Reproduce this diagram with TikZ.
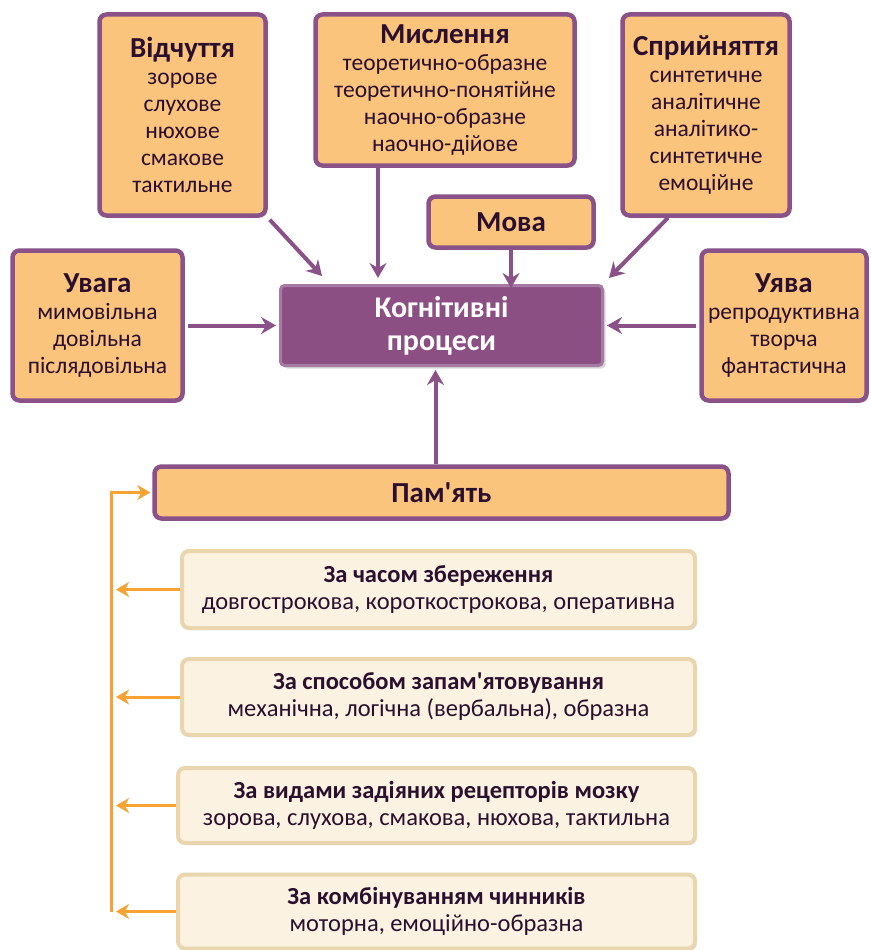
\documentclass[tikz,border=0pt]{standalone}
\usepackage{fontspec}
\setmainfont{Carlito}[Ligatures=TeXOff]
\usetikzlibrary{arrows.meta}
\usetikzlibrary{shadows}
\definecolor{boxfill}{HTML}{FAC47D}
\definecolor{plum}{HTML}{8A5289}
\definecolor{plumfill}{HTML}{8B4F84}
\definecolor{plumedge}{HTML}{A57AA3}
\definecolor{ink}{HTML}{2B0F2E}
\definecolor{cream}{HTML}{FBF2E2}
\definecolor{creamedge}{HTML}{E9D5AE}
\definecolor{amber}{HTML}{F7A233}
\tikzstyle{proc} = [draw=plum, fill=boxfill, line width=4.5pt, rounded corners=7pt, text=ink, align=center, inner sep=0pt, drop shadow={opacity=0.25, shadow xshift=2pt, shadow yshift=-2pt}, font=\fontsize{23.5}{27}\selectfont]
\tikzstyle{core} = [draw=plumedge, fill=plumfill, line width=3pt, rounded corners=4pt, text=white, align=center, inner sep=0pt, drop shadow={opacity=0.3, shadow xshift=3pt, shadow yshift=-3pt}, font=\bfseries\fontsize{30}{33}\selectfont]
\tikzstyle{kind} = [draw=creamedge, fill=cream, line width=4pt, rounded corners=7pt, text=ink, align=center, inner sep=0pt, drop shadow={opacity=0.2, shadow xshift=2pt, shadow yshift=-2pt}, font=\fontsize{24.5}{27}\selectfont]
\tikzstyle{parrow} = [draw=plum, line width=4pt, -{Stealth[length=15pt, width=17pt, inset=5pt]}]
\tikzstyle{oarrow} = [draw=amber, line width=3pt, -{Stealth[length=13pt, width=15pt, inset=4pt]}]
\newcommand{\ttl}[1]{{\bfseries\fontsize{29}{31}\selectfont #1}}
\newcommand{\ktl}[1]{{\bfseries\fontsize{24.5}{27}\selectfont #1}}

\begin{document}
\begin{tikzpicture}[x=1pt,y=-1pt]
\useasboundingbox[fill=white] (0,0) rectangle (870,950);
% top row
\node[proc, minimum width=166pt, minimum height=201pt] (vid) at (182.5,115) {\ttl{Відчуття}\\зорове\\слухове\\нюхове\\смакове\\тактильне};
\node[proc, minimum width=259pt, minimum height=151pt] (mys) at (445,90) {\ttl{Мислення}\\теоретично-образне\\теоретично-понятійне\\наочно-образне\\наочно-дійове};
\node[proc, minimum width=167pt, minimum height=201pt] (spr) at (706,115) {\ttl{Сприйняття}\\синтетичне\\аналітичне\\аналітико-\\синтетичне\\емоційне};
\node[proc, minimum width=165pt, minimum height=51pt] (mova) at (511,222) {\ttl{Мова}};
% middle row
\node[proc, minimum width=170pt, minimum height=150pt] (uvaga) at (97.5,325.5) {\ttl{Увага}\\мимовільна\\довільна\\післядовільна};
\node[proc, minimum width=165pt, minimum height=150pt] (uyava) at (784,325.5) {\ttl{Уява}\\репродуктивна\\творча\\фантастична};
\node[core, minimum width=322pt, minimum height=80pt] (cog) at (441.5,325.5) {Когнітивні\\процеси};
% memory
\node[proc, minimum width=574pt, minimum height=52pt] (pam) at (441.5,492.5) {\ttl{Пам'ять}};
\node[kind, minimum width=513pt, minimum height=77pt] (z1) at (438.5,589.5) {\ktl{За часом збереження}\\довгострокова, короткострокова, оперативна};
\node[kind, minimum width=513pt, minimum height=76pt] (z2) at (438.5,697) {\ktl{За способом запам'ятовування}\\механічна, логічна (вербальна), образна};
\node[kind, minimum width=517pt, minimum height=75pt] (z3) at (436.5,805.5) {\ktl{За видами задіяних рецепторів мозку}\\зорова, слухова, смакова, нюхова, тактильна};
\node[kind, minimum width=517pt, minimum height=74pt] (z4) at (436.5,911.5) {\ktl{За комбінуванням чинників}\\моторна, емоційно-образна};
\coordinate (spine) at (111,912);

% arrows into the core
\draw[parrow] ([shift={(2,2)}]vid.south east) -- ([shift={(43,-8)}]cog.north west);
\draw[parrow] ([xshift=-67]mys.south) -- ([shift={(-67,-6)}]mys.south |- cog.north);
\draw[parrow] (mova.south) -- ([yshift=-4]mova.south |- cog.north);
\draw[parrow] ([xshift=-38]spr.south) -- ([shift={(5,-6)}]cog.north east);
\draw[parrow, shorten <=3pt, shorten >=3pt] (uvaga.east) -- (cog.west);
\draw[parrow, shorten <=3pt, shorten >=3pt] (uyava.west) -- (cog.east);
\draw[parrow, shorten >=3pt] ([xshift=-6]pam.north) -- ([xshift=-6]cog.south);

% memory kinds
\draw[oarrow, shorten >=2pt] (spine) |- (pam.west);
\foreach \k in {z1,z2,z3,z4}
  \draw[oarrow, shorten >=5pt] (\k.west) -- (\k.west -| spine);
\end{tikzpicture}
\end{document}
